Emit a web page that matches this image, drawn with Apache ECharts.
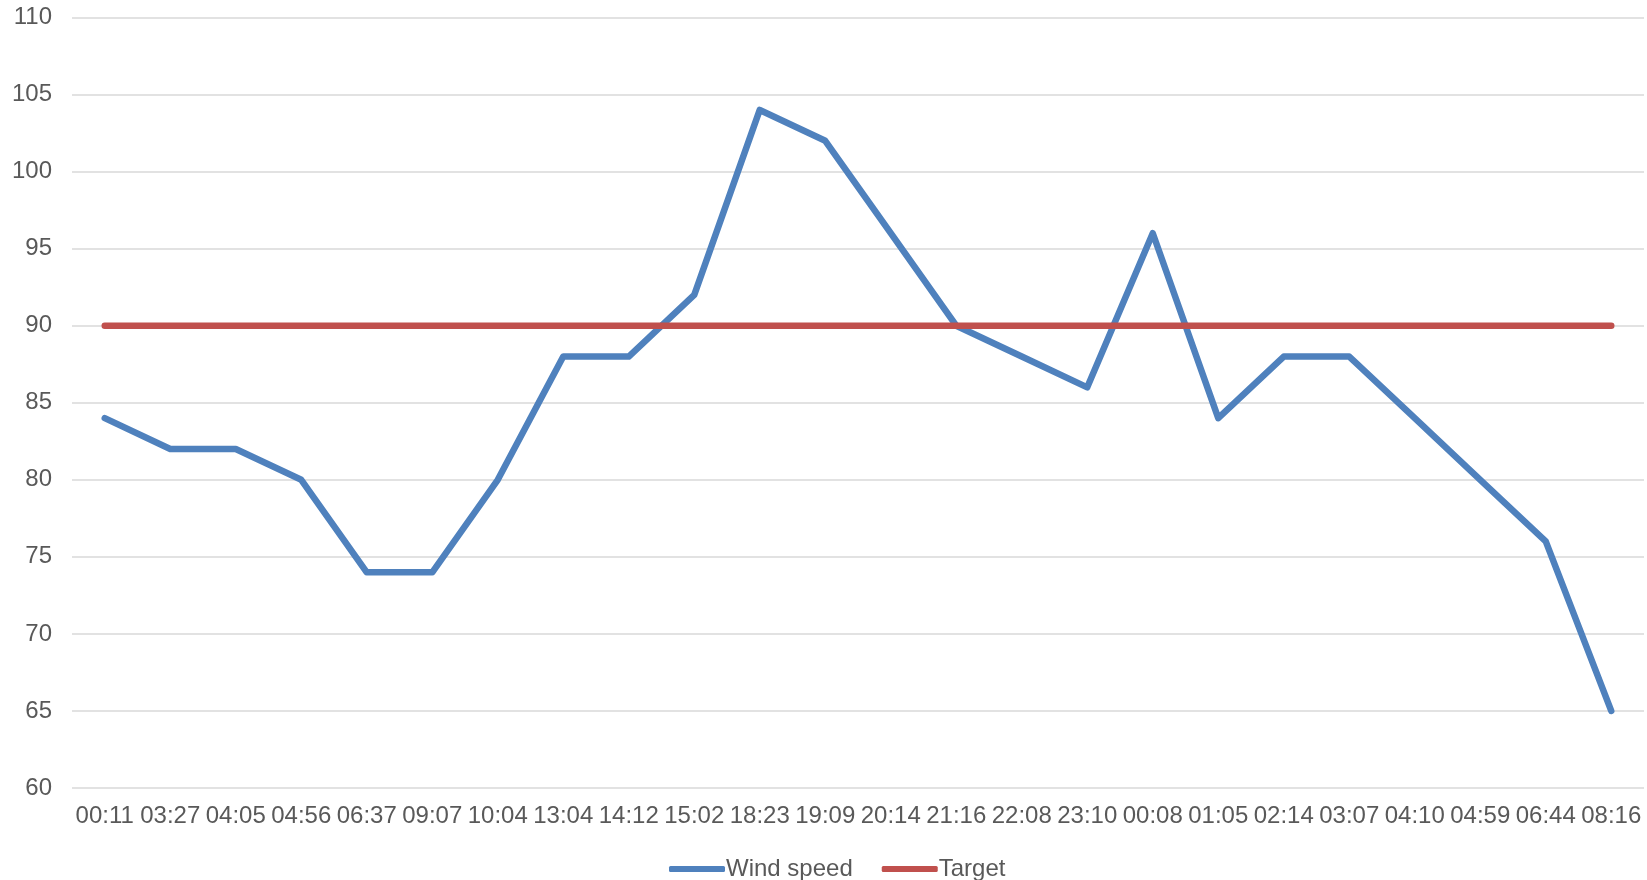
<!DOCTYPE html>
<html><head><meta charset="utf-8">
<script src="https://cdn.jsdelivr.net/npm/echarts@6/dist/echarts.min.js"></script>
<style>html,body{margin:0;padding:0;background:#fff}#c{width:1647px;height:880px}</style>
</head><body><div id="c"></div>
<script>
const categories = ["00:11","03:27","04:05","04:56","06:37","09:07","10:04","13:04","14:12","15:02","18:23","19:09","20:14","21:16","22:08","23:10","00:08","01:05","02:14","03:07","04:10","04:59","06:44","08:16"];
const windSpeed = [84,82,82,80,74,74,80,88,88,92,104,102,96,90,88,86,96,84,88,88,84,80,76,65];
const target = [90,90,90,90,90,90,90,90,90,90,90,90,90,90,90,90,90,90,90,90,90,90,90,90];
const font = "'Liberation Sans', Arial, sans-serif";
const chart = echarts.init(document.getElementById('c'));
chart.setOption({
  animation: false,
  textStyle: {fontFamily: font},
  grid: {left: 72, right: 3, top: 17.5, bottom: 92, containLabel: false},
  legend: {
    top: 852, left: 664, itemWidth: 56, itemHeight: 6, itemGap: 29,
    textStyle: {fontSize: 24, color: '#595959', fontFamily: font, padding: [0,0,0,-4]},
    data: [{name:'Wind speed', icon:'roundRect'},{name:'Target', icon:'roundRect'}]
  },
  xAxis: {
    type: 'category', data: categories, boundaryGap: true,
    axisLine: {show: false}, axisTick: {show: false},
    axisLabel: {fontSize: 24, color: '#595959', margin: 16, interval: 0, fontFamily: font}
  },
  yAxis: {
    type: 'value', min: 60, max: 110, interval: 5,
    axisLine: {show: false}, axisTick: {show: false},
    axisLabel: {fontSize: 24, color: '#595959', margin: 20, fontFamily: font},
    splitLine: {lineStyle: {color: '#D9D9D9', width: 1.5}}
  },
  series: [
    {name: 'Wind speed', type: 'line', data: windSpeed, symbol: 'none', color: '#4F81BD',
     lineStyle: {width: 6.5, cap: 'round', join: 'round', color: '#4F81BD'}},
    {name: 'Target', type: 'line', data: target, symbol: 'none', color: '#C0504D',
     lineStyle: {width: 6.5, cap: 'round', join: 'round', color: '#C0504D'}}
  ]
});
</script></body></html>
